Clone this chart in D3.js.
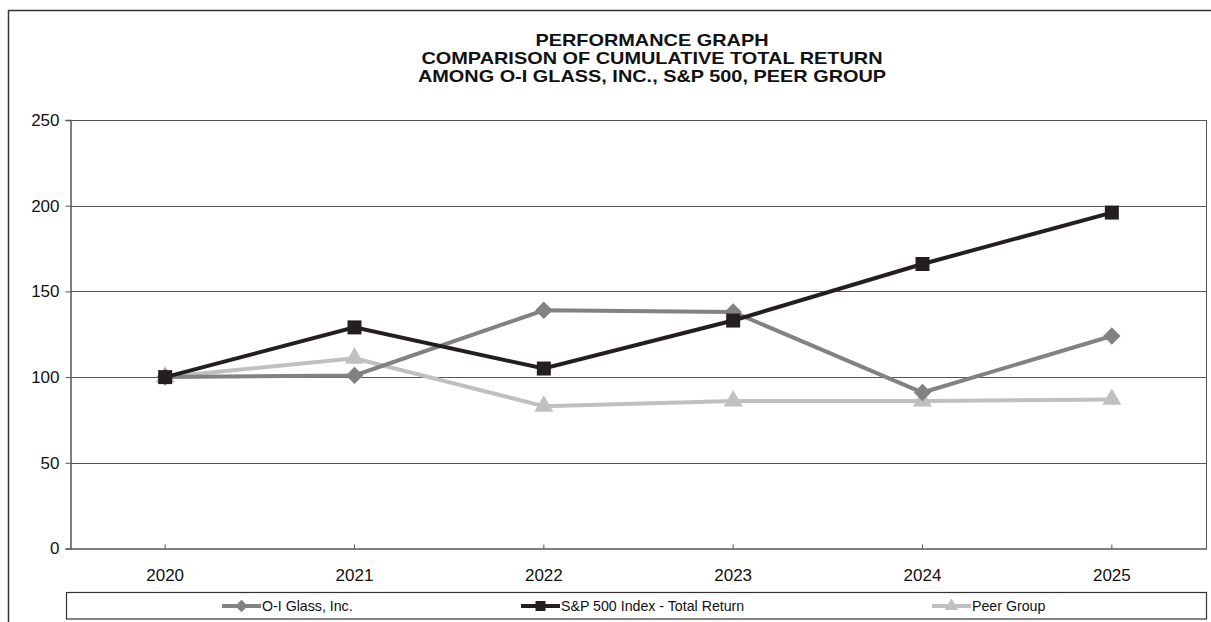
<!DOCTYPE html>
<html>
<head>
<meta charset="utf-8">
<script src="https://cdn.jsdelivr.net/npm/d3@7"></script>
<style>
  body { margin: 0; background: #fff; }
  svg { display: block; font-family: "Liberation Sans", Arial, sans-serif; }
</style>
</head>
<body>
<svg id="chart" width="1211" height="622"></svg>
<script>
let years = ["2020", "2021", "2022", "2023", "2024", "2025"];
let oiGlass = [100, 101, 139, 138, 91, 124];
let sp500 = [100, 129, 105, 133, 166, 196];
let peerGroup = [100, 111, 83, 86, 86, 87];
let yTicks = [0, 50, 100, 150, 200, 250];
let titleLines = ["PERFORMANCE GRAPH", "COMPARISON OF CUMULATIVE TOTAL RETURN", "AMONG O-I GLASS, INC., S&P 500, PEER GROUP"];

let series = [
    {"name": "O-I Glass, Inc.", "values": oiGlass, "color": "#828284", "marker": "diamond", "lx": 222},
    {"name": "S&P 500 Index - Total Return", "values": sp500, "color": "#231f20", "marker": "square", "lx": 521},
    {"name": "Peer Group", "values": peerGroup, "color": "#c0c0c2", "marker": "triangle", "lx": 932}
];

let svg = d3.select("#chart");
let plot = {"left": 70.5, "right": 1206.5, "top": 120, "bottom": 548.5};

// outer frame (top and left only)
svg.append("path")
    .attr("d", "M8.5,622 V10.5 H1211")
    .attr("fill", "none")
    .attr("stroke", "#333")
    .attr("stroke-width", 1.5);

// title, a bit wide like the original
svg.append("g")
    .attr("transform", "translate(652,0) scale(1.17,1)")
    .selectAll("text")
    .data(titleLines)
    .enter()
    .append("text")
    .attr("x", 0)
    .attr("y", (d, i) => 46 + i * 18)
    .attr("text-anchor", "middle")
    .attr("font-size", 17)
    .attr("font-weight", "bold")
    .attr("fill", "#111")
    .text(d => d);

let x = d3.scaleBand().domain(years).range([plot.left, plot.right]).padding(0);
let cx = d => x(d) + x.bandwidth() / 2;
let y = d3.scaleLinear().domain([0, 250]).range([plot.bottom, plot.top]);

// gridlines
svg.append("g").selectAll("line")
    .data(yTicks.filter(t => t > 0))
    .enter()
    .append("line")
    .attr("x1", plot.left)
    .attr("x2", plot.right)
    .attr("y1", d => Math.round(y(d)) + 0.5)
    .attr("y2", d => Math.round(y(d)) + 0.5)
    .attr("stroke", "#555")
    .attr("stroke-width", 1.2);

// right border of plot
svg.append("line")
    .attr("x1", plot.right).attr("x2", plot.right)
    .attr("y1", plot.top).attr("y2", plot.bottom)
    .attr("stroke", "#555");

// y axis
let yAxis = svg.append("g")
    .attr("transform", "translate(" + plot.left + ",0)")
    .call(d3.axisLeft(y).tickValues(yTicks).tickSize(5).tickPadding(6));
yAxis.select(".domain").attr("stroke", "#555").attr("stroke-width", 1.5);
yAxis.selectAll(".tick line").attr("stroke", "#555");
yAxis.selectAll("text").attr("font-size", 17).attr("fill", "#111")
    .attr("font-family", "'Liberation Sans', Arial, sans-serif");

// x axis
let xAxis = svg.append("g")
    .attr("transform", "translate(0," + plot.bottom + ")")
    .call(d3.axisBottom(x).tickSize(0).tickPadding(20));
xAxis.select(".domain").attr("stroke", "#555").attr("stroke-width", 1.5);
xAxis.selectAll("text").attr("font-size", 17).attr("fill", "#111")
    .attr("font-family", "'Liberation Sans', Arial, sans-serif");
svg.append("g").selectAll("line")
    .data(years)
    .enter()
    .append("line")
    .attr("x1", d => cx(d)).attr("x2", d => cx(d))
    .attr("y1", plot.bottom).attr("y2", plot.bottom - 4)
    .attr("stroke", "#555");

function markerPath(type, s) {
    if (type === "square") return d3.symbol(d3.symbolSquare, s * s)();
    if (type === "triangle") return d3.symbol(d3.symbolTriangle, s * s * 0.8)();
    let h = s * 0.62;
    return "M0," + (-h) + "L" + h + ",0L0," + h + "L" + (-h) + ",0Z";
}

let line = d3.line().x((d, i) => cx(years[i])).y(d => y(d));

// draw peer first so darker series sit on top
[series[2], series[0], series[1]].forEach(function (s) {
    let g = svg.append("g");
    g.append("path")
        .attr("d", line(s.values))
        .attr("fill", "none")
        .attr("stroke", s.color)
        .attr("stroke-width", 4);
    g.selectAll("path.mk")
        .data(s.values)
        .enter()
        .append("path")
        .attr("class", "mk")
        .attr("d", markerPath(s.marker, 14))
        .attr("transform", (d, i) => "translate(" + cx(years[i]) + "," + y(d) + ")")
        .attr("fill", s.color);
});

// legend
let legend = svg.append("g");
legend.append("rect")
    .attr("x", 66.5).attr("y", 592.5)
    .attr("width", 1140).attr("height", 26.5)
    .attr("fill", "#fff")
    .attr("stroke", "#333")
    .attr("stroke-width", 1.2);
series.forEach(function (s) {
    let ly = 606;
    legend.append("line")
        .attr("x1", s.lx).attr("x2", s.lx + 39)
        .attr("y1", ly).attr("y2", ly)
        .attr("stroke", s.color).attr("stroke-width", 4);
    legend.append("path")
        .attr("d", markerPath(s.marker, 10))
        .attr("transform", "translate(" + (s.lx + 19.5) + "," + ly + ")")
        .attr("fill", s.color);
    legend.append("text")
        .attr("x", s.lx + 40)
        .attr("y", ly + 5)
        .attr("font-size", 14.2)
        .attr("fill", "#111")
        .text(s.name);
});
</script>
</body>
</html>
